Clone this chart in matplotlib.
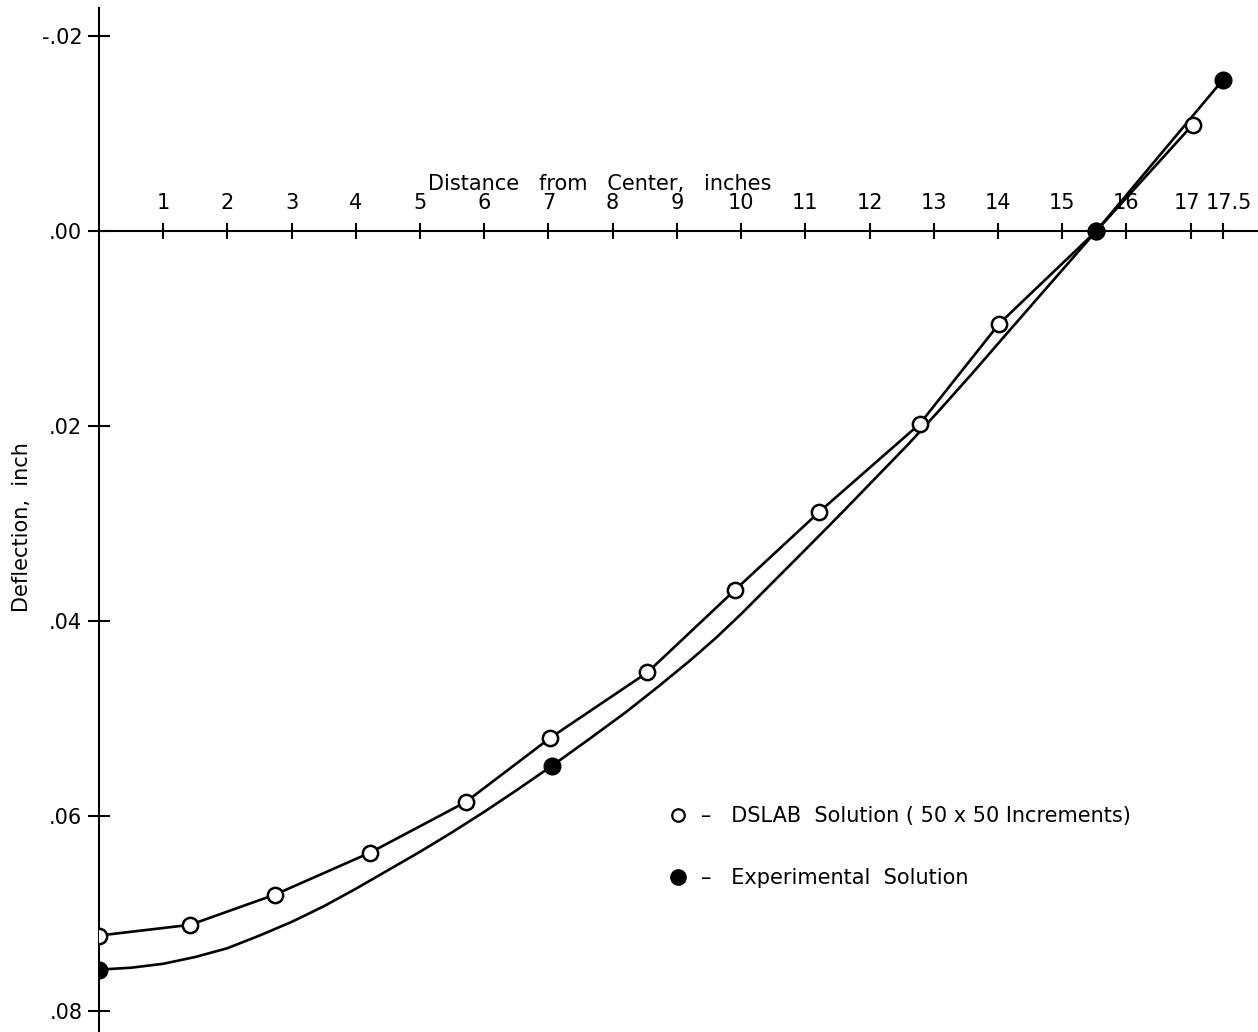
import matplotlib
matplotlib.use("Agg")
import matplotlib.pyplot as plt
import matplotlib.transforms as mtransforms
from matplotlib.lines import Line2D

# DSLAB solution (open circles)
dslab_x = [0.0, 1.42, 2.74, 4.22, 5.71, 7.03, 8.54, 9.91, 11.22, 12.78, 14.02, 15.53, 17.03]
dslab_y = [0.0723, 0.0712, 0.0681, 0.0638, 0.0586, 0.0520, 0.0453, 0.0368, 0.0288, 0.0198, 0.0095, 0.0, -0.0109]

# Experimental solution (filled circles)
exp_x = [0.0, 7.05, 15.53, 17.5]
exp_y = [0.0758, 0.0549, 0.0, -0.0155]

# hand-drawn curve through the experimental points
exp_curve_x = [0.0, 0.5, 1.0, 1.5, 2.0, 2.5, 3.0, 3.5, 4.0, 4.5, 5.0, 5.5, 6.0, 6.5, 7.05,
               7.6, 8.2, 8.7, 9.2, 9.6, 10.0, 10.5, 11.0, 11.6, 12.1, 12.6, 13.1, 13.6, 14.1,
               15.53, 17.5]
exp_curve_y = [0.0758, 0.0756, 0.0752, 0.0745, 0.0736, 0.0723, 0.0709, 0.0693, 0.0675, 0.0656,
               0.0637, 0.0617, 0.0596, 0.0574, 0.0549, 0.0523, 0.0494, 0.0468, 0.0441, 0.0418,
               0.0393, 0.0360, 0.0327, 0.0287, 0.0253, 0.0219, 0.0183, 0.0146, 0.0108, 0.0,
               -0.0155]

x_ticks = [1, 2, 3, 4, 5, 6, 7, 8, 9, 10, 11, 12, 13, 14, 15, 16, 17, 17.5]
x_tick_labels = ["1", "2", "3", "4", "5", "6", "7", "8", "9", "10", "11", "12", "13", "14", "15", "16", "17", "17.5"]
y_ticks = [-0.02, 0.0, 0.02, 0.04, 0.06, 0.08]
y_tick_labels = ["-.02", ".00", ".02", ".04", ".06", ".08"]

plt.rcParams['font.family'] = ['DejaVu Sans']

fig = plt.figure(figsize=(12.58, 10.32), dpi=100)
W, H = 1258, 1032
ax = fig.add_axes([99 / W, 0, 1159 / W, 1024 / H])
ax.set_xlim(0, 18.05)
ax.set_ylim(0.0822, -0.0229)

# axis lines: vertical at left edge, horizontal at zero deflection
ax.spines['right'].set_visible(False)
ax.spines['bottom'].set_visible(False)
ax.spines['top'].set_position(('data', 0))
ax.spines['top'].set_linewidth(1.5)
ax.spines['left'].set_linewidth(1.5)
ax.xaxis.set_ticks_position('top')
ax.yaxis.set_ticks_position('left')

ax.set_xticks(x_ticks)
ax.set_xticklabels(x_tick_labels)
ax.set_yticks(y_ticks)
ax.set_yticklabels(y_tick_labels)
ax.tick_params(axis='x', direction='inout', length=12, width=1.5, pad=7, labelsize=15)
ax.tick_params(axis='y', direction='inout', length=16, width=1.5, pad=4, labelsize=15)

# pull the crowded "17" and "17.5" labels apart a little
labs = ax.get_xticklabels()
for lab, dx in ((labs[-2], -4), (labs[-1], 6)):
    lab.set_transform(lab.get_transform() + mtransforms.ScaledTranslation(dx / 100, 0, fig.dpi_scale_trans))

# curves
ax.plot(dslab_x, dslab_y, color='black', lw=1.9, zorder=2)
ax.plot(exp_curve_x, exp_curve_y, color='black', lw=1.9, zorder=2)
ax.plot(dslab_x, dslab_y, 'o', ms=11, mfc='white', mec='black', mew=1.8, zorder=3)
ax.plot(exp_x, exp_y, 'o', ms=12, mfc='black', mec='black', zorder=4)

ax.text(7.8, -0.0048, "Distance   from   Center,   inches", fontsize=15,
        ha='center', va='center')
fig.text(22 / W, 1 - 527 / H, "Deflection,  inch", fontsize=15, rotation=90,
         ha='center', va='center')

handles = [
    Line2D([], [], ls='none', marker='o', ms=9, mfc='white', mec='black', mew=1.6),
    Line2D([], [], ls='none', marker='o', ms=11, mfc='black', mec='black'),
]
labels = ["\u2013   DSLAB  Solution ( 50 x 50 Increments)", "\u2013   Experimental  Solution"]
ax.legend(handles, labels, loc='upper left', bbox_to_anchor=(560 / 1159, 1 - 790 / 1024),
          frameon=False, fontsize=15, handlelength=1.0, handletextpad=0.6,
          labelspacing=2.0, borderaxespad=0)

fig.savefig("out.png", dpi=100)
